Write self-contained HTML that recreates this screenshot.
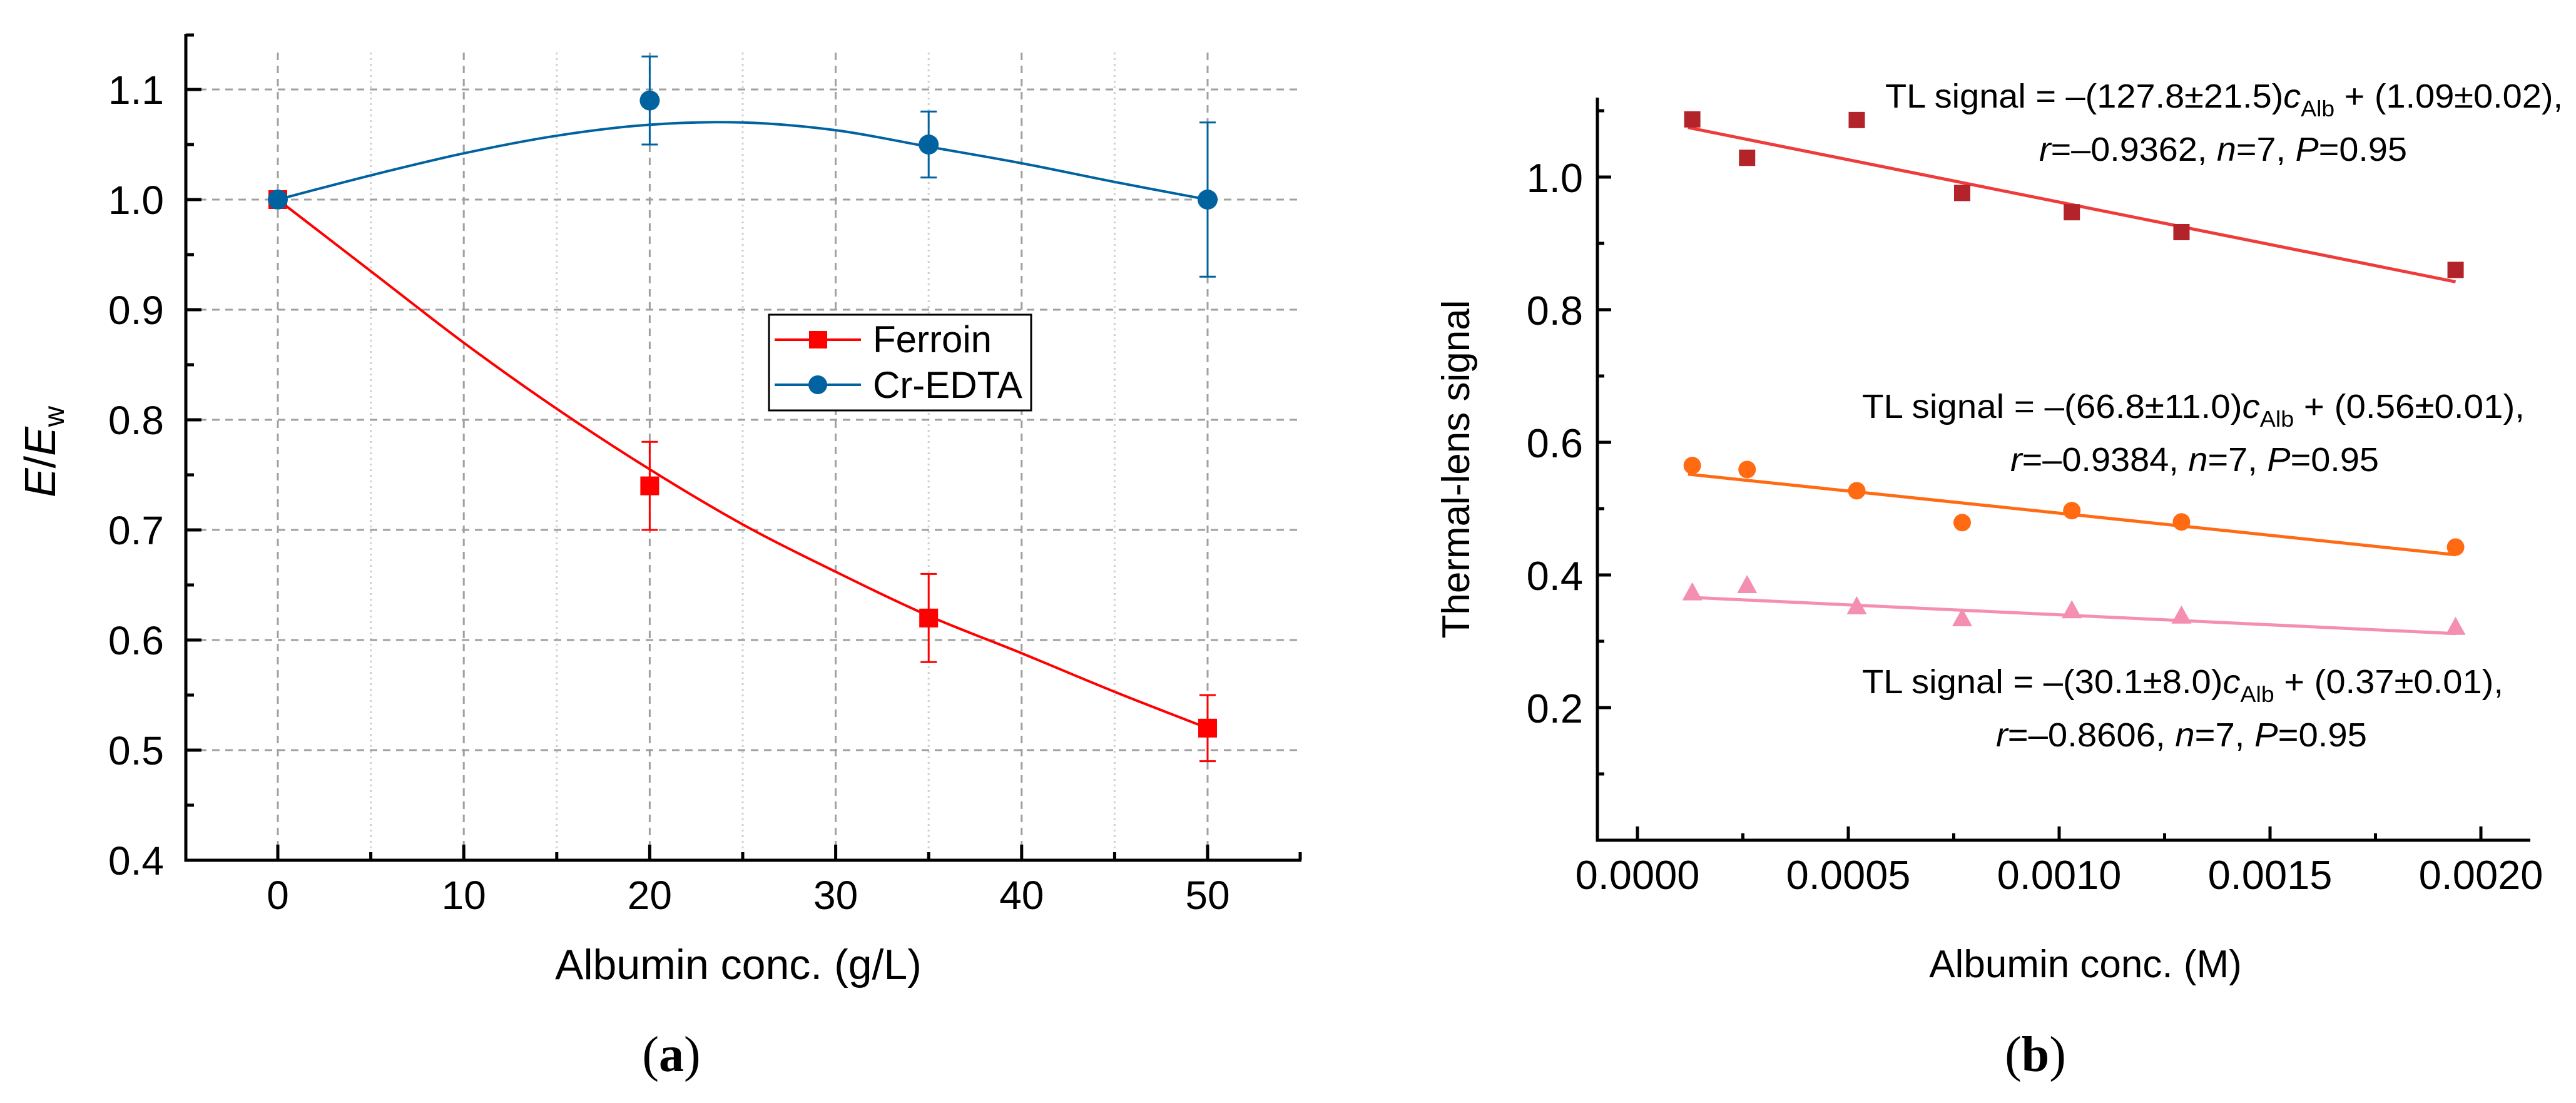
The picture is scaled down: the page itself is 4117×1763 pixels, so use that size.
<!DOCTYPE html>
<html><head><meta charset="utf-8"><style>
html,body{margin:0;padding:0;background:#fff;}
svg{display:block;font-family:"Liberation Sans",Arial,sans-serif;}
</style></head><body>
<svg id="fig" width="4117" height="1763" viewBox="0 0 4117 1763" xmlns="http://www.w3.org/2000/svg">
<g id="pa"></g>
<g id="pb"></g>
</svg>
<script>
// ---------- Panel (a) data ----------
const aX = [0, 20, 35, 50];
const ferroinY = [1.00, 0.74, 0.62, 0.52];
const ferroinErr = [0, 0.04, 0.04, 0.03];
const crY = [1.00, 1.09, 1.05, 1.00];
const crErr = [0, 0.04, 0.03, 0.07];
const fitX = [0, 5, 10, 15, 20, 25, 30, 35, 40, 45, 50];
const ferroinFit = [1.0, 0.935, 0.87, 0.81, 0.755, 0.705, 0.662, 0.622, 0.588, 0.553, 0.52];
const crFit = [1.0, 1.022, 1.042, 1.058, 1.068, 1.07, 1.063, 1.048, 1.033, 1.016, 1.0];
const aXTicks = [0, 10, 20, 30, 40, 50];
const aYTicks = [0.4, 0.5, 0.6, 0.7, 0.8, 0.9, 1.0, 1.1];
const aYTickLabels = ["0.4","0.5","0.6","0.7","0.8","0.9","1.0","1.1"];

// ---------- Panel (b) data ----------
const bX = [0.00013, 0.00026, 0.00052, 0.00077, 0.00103, 0.00129, 0.00194];
const sqY = [1.087, 1.029, 1.086, 0.976, 0.947, 0.917, 0.860];
const ciY = [0.565, 0.559, 0.527, 0.479, 0.497, 0.480, 0.442];
const trY = [0.373, 0.384, 0.352, 0.334, 0.346, 0.338, 0.321];
const slopes = [-127.8, -66.8, -30.1];
const intercepts = [1.09, 0.56, 0.37];
const fitRange = [0.00012, 0.00194];
const bXTicks = [0, 0.0005, 0.0010, 0.0015, 0.0020];
const bXTickLabels = ["0.0000","0.0005","0.0010","0.0015","0.0020"];
const bYTicks = [0.2, 0.4, 0.6, 0.8, 1.0];
const bYTickLabels = ["0.2","0.4","0.6","0.8","1.0"];

const NS = "http://www.w3.org/2000/svg";
function mk(parent, tag, attrs, text){
  const e = document.createElementNS(NS, tag);
  for (const k in attrs) e.setAttribute(k, attrs[k]);
  if (text !== undefined) e.textContent = text;
  parent.appendChild(e);
  return e;
}
function smooth(pts){
  let d = "M" + pts[0][0] + "," + pts[0][1];
  for (let i = 0; i < pts.length - 1; i++){
    const p0 = pts[Math.max(0,i-1)], p1 = pts[i], p2 = pts[i+1], p3 = pts[Math.min(pts.length-1,i+2)];
    const c1x = p1[0] + (p2[0]-p0[0])/6, c1y = p1[1] + (p2[1]-p0[1])/6;
    const c2x = p2[0] - (p3[0]-p1[0])/6, c2y = p2[1] - (p3[1]-p1[1])/6;
    d += " C" + c1x + "," + c1y + " " + c2x + "," + c2y + " " + p2[0] + "," + p2[1];
  }
  return d;
}

// ================= Panel A =================
const pa = document.getElementById("pa");
const ax = v => 444 + v * 29.72;
const ay = v => 1375 - (v - 0.4) * 1760;
const aLeft = 297, aRight = 2080, aTop = 54, aBot = 1375;

for (let v = 5; v <= 45; v += 10){
  const g = mk(pa, "line", {x1: ax(v), x2: ax(v), y1: aTop+30, y2: aBot, stroke: "#cfcfcf", "stroke-width": 3, "stroke-dasharray": "3,6"});
  
  
}
aXTicks.forEach(v => {
  const g = mk(pa, "line", {x1: ax(v), x2: ax(v), y1: aTop+30, y2: aBot, stroke: "#a0a0a0", "stroke-width": 3, "stroke-dasharray": "12,9"});
  
  
});
aYTicks.forEach(v => {
  if (v <= 0.4) return;
  const g = mk(pa, "line", {x1: aLeft, x2: aRight, y1: ay(v), y2: ay(v), stroke: "#a0a0a0", "stroke-width": 3, "stroke-dasharray": "12,9"});
  
  
});
let e = mk(pa, "path", {d: `M${aLeft},${aTop} L${aLeft},${aBot} L${aRight},${aBot}`, fill: "none", stroke: "#000", "stroke-width": 5});


mk(pa, "line", {x1: aLeft, x2: aLeft+13, y1: aTop+2, y2: aTop+2, stroke: "#000", "stroke-width": 5});
mk(pa, "line", {x1: aRight-2, x2: aRight-2, y1: aBot, y2: aBot-13, stroke: "#000", "stroke-width": 5});
aYTicks.forEach((v, i) => {
  mk(pa, "line", {x1: aLeft, x2: aLeft+25, y1: ay(v), y2: ay(v), stroke: "#000", "stroke-width": 5});
  if (v < 1.1){
    mk(pa, "line", {x1: aLeft, x2: aLeft+13, y1: ay(v+0.05), y2: ay(v+0.05), stroke: "#000", "stroke-width": 5});
  }
  const t = mk(pa, "text", {x: 262, y: ay(v) + 23, "text-anchor": "end", "font-size": 64}, aYTickLabels[i]);
  
  
});
aXTicks.forEach(v => {
  mk(pa, "line", {x1: ax(v), x2: ax(v), y1: aBot, y2: aBot-25, stroke: "#000", "stroke-width": 5});
  if (v < 50) mk(pa, "line", {x1: ax(v+5), x2: ax(v+5), y1: aBot, y2: aBot-13, stroke: "#000", "stroke-width": 5});
  const t = mk(pa, "text", {x: ax(v), y: 1453, "text-anchor": "middle", "font-size": 64}, String(v));
  
  
});
e = mk(pa, "text", {x: 1180, y: 1565, "text-anchor": "middle", "font-size": 68}, "Albumin conc. (g/L)");


e = mk(pa, "text", {transform: "translate(88,722) rotate(-90)", "text-anchor": "middle", "font-size": 70});


e.innerHTML = '<tspan font-style="italic">E</tspan>/<tspan font-style="italic">E</tspan><tspan font-size="46" dy="14">w</tspan>';
e = mk(pa, "text", {x: 1073, y: 1712, "text-anchor": "middle", "font-size": 80, "font-family": "Liberation Serif, serif"});


e.innerHTML = '(<tspan font-weight="bold">a</tspan>)';

e = mk(pa, "path", {d: smooth(fitX.map((x,i)=>[ax(x), ay(ferroinFit[i])])), fill: "none", stroke: "#ff0000", "stroke-width": 4});


e = mk(pa, "path", {d: smooth(fitX.map((x,i)=>[ax(x), ay(crFit[i])])), fill: "none", stroke: "#0063a0", "stroke-width": 4});


function errbar(g, x, y, err, color){
  if (err <= 0) return;
  mk(g, "line", {x1: ax(x), x2: ax(x), y1: ay(y+err), y2: ay(y-err), stroke: color, "stroke-width": 3});
  mk(g, "line", {x1: ax(x)-13, x2: ax(x)+13, y1: ay(y+err), y2: ay(y+err), stroke: color, "stroke-width": 3});
  mk(g, "line", {x1: ax(x)-13, x2: ax(x)+13, y1: ay(y-err), y2: ay(y-err), stroke: color, "stroke-width": 3});
}
aX.forEach((x, i) => {
  errbar(pa, x, ferroinY[i], ferroinErr[i], "#ff0000");
  const s = mk(pa, "rect", {x: ax(x)-15, y: ay(ferroinY[i])-15, width: 30, height: 30, fill: "#ff0000"});
  
  
});
aX.forEach((x, i) => {
  errbar(pa, x, crY[i], crErr[i], "#0063a0");
  const c = mk(pa, "circle", {cx: ax(x), cy: ay(crY[i]), r: 16, fill: "#0063a0"});
  
  
});
const lg = mk(pa, "g", {});


mk(lg, "rect", {x: 1229, y: 503, width: 419, height: 153, fill: "#fff", stroke: "#000", "stroke-width": 3});
mk(lg, "line", {x1: 1238, x2: 1376, y1: 543, y2: 543, stroke: "#ff0000", "stroke-width": 4});
mk(lg, "rect", {x: 1293, y: 529, width: 29, height: 28, fill: "#ff0000"});
e = mk(lg, "text", {x: 1395, y: 563, "font-size": 60}, "Ferroin");


mk(lg, "line", {x1: 1238, x2: 1376, y1: 615, y2: 615, stroke: "#0063a0", "stroke-width": 4});
mk(lg, "ellipse", {cx: 1307, cy: 615, rx: 15, ry: 15, fill: "#0063a0"});
e = mk(lg, "text", {x: 1395, y: 636, "font-size": 60}, "Cr-EDTA");



// ================= Panel B =================
const pb = document.getElementById("pb");
const bx = v => 2617 + v * 674000;
const by = v => 1343 - v * 1060;
const bLeft = 2553, bRight = 4044, bTop = 156, bBot = 1343;
e = mk(pb, "path", {d: `M${bLeft},${bTop} L${bLeft},${bBot} L${bRight},${bBot}`, fill: "none", stroke: "#000", "stroke-width": 5});


bYTicks.forEach((v, i) => {
  mk(pb, "line", {x1: bLeft, x2: bLeft+22, y1: by(v), y2: by(v), stroke: "#000", "stroke-width": 5});
  const t = mk(pb, "text", {x: 2530, y: by(v)+24, "text-anchor": "end", "font-size": 65}, bYTickLabels[i]);
  
  
});
[0.1, 0.3, 0.5, 0.7, 0.9, 1.1].forEach(v => mk(pb, "line", {x1: bLeft, x2: bLeft+11, y1: by(v), y2: by(v), stroke: "#000", "stroke-width": 5}));
bXTicks.forEach((v, i) => {
  mk(pb, "line", {x1: bx(v), x2: bx(v), y1: bBot, y2: bBot-22, stroke: "#000", "stroke-width": 5});
  if (v < 0.002) mk(pb, "line", {x1: bx(v+0.00025), x2: bx(v+0.00025), y1: bBot, y2: bBot-11, stroke: "#000", "stroke-width": 5});
  const t = mk(pb, "text", {x: bx(v), y: 1421, "text-anchor": "middle", "font-size": 65}, bXTickLabels[i]);
  
  
});
e = mk(pb, "text", {x: 3333, y: 1562, "text-anchor": "middle", "font-size": 62}, "Albumin conc. (M)");


e = mk(pb, "text", {transform: "translate(2348,750) rotate(-90)", "text-anchor": "middle", "font-size": 62}, "Thermal-lens signal");


e = mk(pb, "text", {x: 3253, y: 1712, "text-anchor": "middle", "font-size": 80, "font-family": "Liberation Serif, serif"});


e.innerHTML = '(<tspan font-weight="bold">b</tspan>)';

const lineColors = ["#ee3b3b", "#ff6a13", "#f48fb1"];
const lineNames = ["fit-line-high", "fit-line-mid", "fit-line-low"];
slopes.forEach((s, i) => {
  const l = mk(pb, "line", {x1: bx(fitRange[0]), x2: bx(fitRange[1]), y1: by(intercepts[i] + s*fitRange[0]), y2: by(intercepts[i] + s*fitRange[1]), stroke: lineColors[i], "stroke-width": 5});
  
  
});
bX.forEach((x, i) => {
  const s = mk(pb, "rect", {x: bx(x)-13, y: by(sqY[i])-13, width: 26, height: 26, fill: "#b22429"});
  
  
  const c = mk(pb, "circle", {cx: bx(x), cy: by(ciY[i]), r: 14, fill: "#ff6a13"});
  
  
  const X = bx(x), Y = by(trY[i]);
  const t = mk(pb, "polygon", {points: `${X},${Y-17} ${X-16},${Y+12} ${X+16},${Y+12}`, fill: "#f48fb1"});
  
  
});
const ann = [
  {x1: 3013, w1: 1083, y1: 172, slope: "127.8±21.5", ic: "1.09±0.02", x2: 3259, w2: 588, y2: 257, r: "0.9362", nm: "equation-high"},
  {x1: 2976, w1: 1059, y1: 668, slope: "66.8±11.0", ic: "0.56±0.01", x2: 3213, w2: 589, y2: 753, r: "0.9384", nm: "equation-mid"},
  {x1: 2976, w1: 1025, y1: 1108, slope: "30.1±8.0", ic: "0.37±0.01", x2: 3190, w2: 593, y2: 1193, r: "0.8606", nm: "equation-low"}
];
ann.forEach(a => {
  const t1 = mk(pb, "text", {x: a.x1, y: a.y1, "font-size": 54, textLength: a.w1, lengthAdjust: "spacingAndGlyphs"});
  
  
  t1.innerHTML = `TL signal = –(${a.slope})<tspan font-style="italic">c</tspan><tspan font-size="36" dy="14">Alb</tspan><tspan dy="-14"> + (${a.ic}),</tspan>`;
  const t2 = mk(pb, "text", {x: a.x2, y: a.y2, "font-size": 54, textLength: a.w2, lengthAdjust: "spacingAndGlyphs"});
  
  
  t2.innerHTML = `<tspan font-style="italic">r</tspan>=–${a.r}, <tspan font-style="italic">n</tspan>=7, <tspan font-style="italic">P</tspan>=0.95`;
});
</script>
</body></html>
